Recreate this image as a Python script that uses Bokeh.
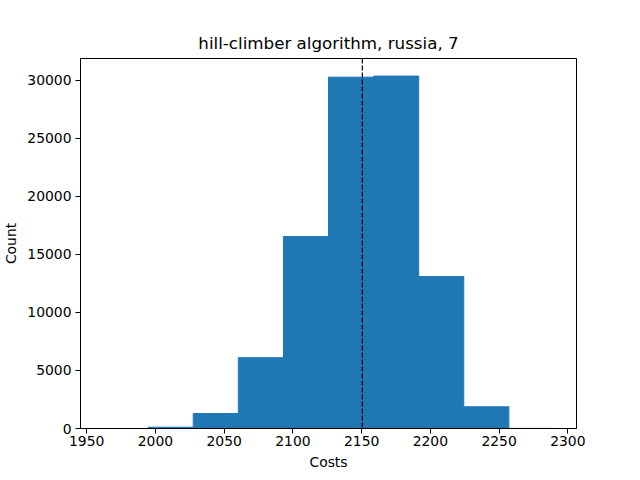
from bokeh.embed import file_html
from bokeh.models import FixedTicker, Range1d, Span
from bokeh.plotting import figure
from bokeh.resources import INLINE

# histogram of final costs (10 bins)
bin_edges = [1961.9, 1994.7, 2027.5, 2060.3, 2093.1, 2125.9,
             2158.7, 2191.5, 2224.3, 2257.1, 2289.9]
counts = [3, 110, 1295, 6100, 16540, 30270, 30360, 13090, 1870, 10]
mean_cost = 2150.5

x_ticks = [1950, 2000, 2050, 2100, 2150, 2200, 2250, 2300]
y_ticks = [0, 5000, 10000, 15000, 20000, 25000, 30000]

FONT = "DejaVu Sans"
BLUE = "#1f77b4"

span = bin_edges[-1] - bin_edges[0]
x_range = Range1d(bin_edges[0] - 0.05*span, bin_edges[-1] + 0.05*span)
y_range = Range1d(0, max(counts)*1.05)

p = figure(frame_width=496, frame_height=370, x_range=x_range, y_range=y_range,
           title="hill-climber algorithm, russia, 7",
           x_axis_label="Costs", y_axis_label="Count",
           output_backend="svg", toolbar_location=None,
           min_border_left=73, min_border_right=50,
           min_border_top=58, min_border_bottom=30)

p.quad(left=bin_edges[:-1], right=bin_edges[1:], top=counts, bottom=0,
       fill_color=BLUE, line_color=BLUE, line_width=1)

p.add_layout(Span(location=mean_cost, dimension="height", line_color="black",
                  line_width=1.2, line_dash="5 2"))

p.title.align = "center"
p.title.text_font = FONT
p.title.text_font_size = "16.7px"
p.title.text_font_style = "normal"
p.title.text_color = "black"
p.title.standoff = 12

p.xgrid.visible = False
p.ygrid.visible = False
p.outline_line_color = "black"
p.outline_line_width = 1
p.outline_line_alpha = 1

p.xaxis.ticker = FixedTicker(ticks=x_ticks)
p.yaxis.ticker = FixedTicker(ticks=y_ticks)

for ax in (p.xaxis[0], p.yaxis[0]):
    ax.axis_line_color = "black"
    ax.major_tick_line_color = "black"
    ax.major_tick_out = 5
    ax.major_tick_in = 0
    ax.minor_tick_line_color = None
    ax.major_label_text_font = FONT
    ax.major_label_text_font_size = "13.9px"
    ax.major_label_text_color = "black"
    ax.major_label_standoff = 4
    ax.axis_label_text_font = FONT
    ax.axis_label_text_font_size = "13.9px"
    ax.axis_label_text_font_style = "normal"
    ax.axis_label_text_color = "black"
    ax.axis_label_standoff = 5

p.xaxis[0].major_label_standoff = 2

open("out.html", "w").write(file_html(p, INLINE))
